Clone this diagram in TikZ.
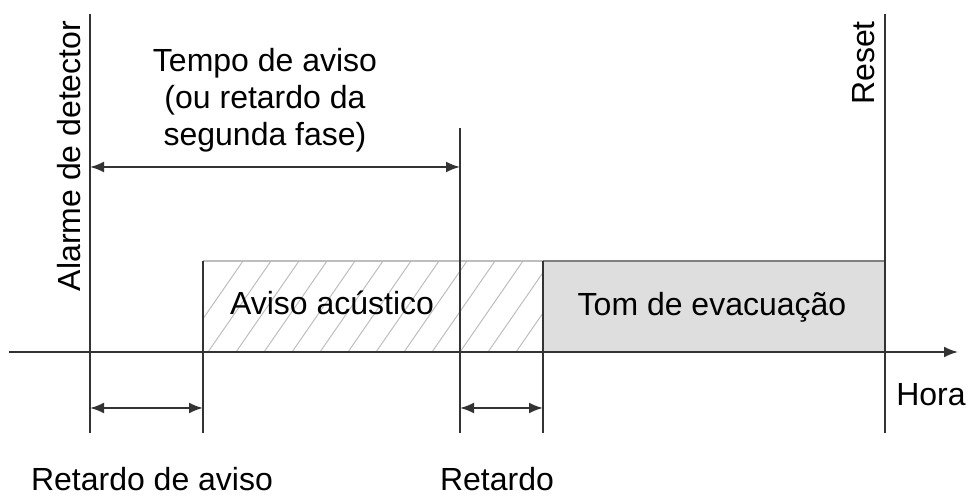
\documentclass[tikz,border=0pt]{standalone}
\usepackage{fontspec}
\setmainfont{Liberation Sans}
\usetikzlibrary{arrows.meta}
\pgfdeclarelayer{filllayer}
\pgfdeclarelayer{edgelayer}
\pgfsetlayers{filllayer,edgelayer,main}
\definecolor{linegray}{HTML}{333333}
\definecolor{hatchgray}{HTML}{BDBDBD}
\definecolor{boxgray}{HTML}{DEDEDE}
\tikzstyle{mark line}=[draw=linegray, line width=1pt]
\tikzstyle{span}=[draw=linegray, line width=1pt, {Latex[length=7pt,width=5.5pt]}-{Latex[length=7pt,width=5.5pt]}]
\tikzstyle{label}=[inner sep=0pt, font=\fontsize{16}{18.5}\selectfont]
\tikzstyle{side label}=[inner sep=0pt, rotate=90, font=\fontsize{16}{18.5}\selectfont]

\begin{document}
\begin{tikzpicture}[x=0.5pt, y=-0.5pt]
	\useasboundingbox (0,0) rectangle (971,496);
	% ends of the time marks
	\coordinate (alarmtop) at (90, 14);
	\coordinate (alarmbot) at (90, 433);
	\coordinate (avisotop) at (203, 261);
	\coordinate (avisobot) at (203, 433);
	\coordinate (tempotop) at (460, 128);
	\coordinate (tempobot) at (460, 433);
	\coordinate (evactop) at (543, 261);
	\coordinate (evacbot) at (543, 433);
	\coordinate (resettop) at (885, 14);
	\coordinate (resetbot) at (885, 433);
	\coordinate (axisstart) at (9, 352);
	\coordinate (axisend) at (958, 352);
	\begin{pgfonlayer}{filllayer}
		\fill [boxgray] (evactop) rectangle (885, 352);
		\begin{scope}
			\clip (avisotop) rectangle (543, 352);
			\foreach \i in {0,...,14}
				\draw [hatchgray, line width=0.5pt] (180+\i*28, 352) -- ++(63, -91);
		\end{scope}
	\end{pgfonlayer}
	\begin{pgfonlayer}{edgelayer}
		\draw [hatchgray, line width=0.8pt] (avisotop) -- (evactop);
		\draw [draw=gray, line width=0.8pt] (evactop) -- (885, 261);
		\draw [style=mark line] (alarmtop) -- (alarmbot);
		\draw [style=mark line] (avisotop) -- (avisobot);
		\draw [style=mark line] (tempotop) -- (tempobot);
		\draw [style=mark line] (evactop) -- (evacbot);
		\draw [style=mark line] (resettop) -- (resetbot);
		\draw [style=mark line, -{Latex[length=7pt,width=5.5pt]}] (axisstart) -- (axisend);
		\draw [style=span] (alarmtop |- 0, 167) -- (tempotop |- 0, 167);
		\draw [style=span] (alarmbot |- 0, 408) -- (avisobot |- 0, 408);
		\draw [style=span] (tempobot |- 0, 408) -- (evacbot |- 0, 408);
	\end{pgfonlayer}
	\node [style=side label] (alarme) at (69, 156) {Alarme de detector};
	\node [style=side label] (reset) at (864, 63) {Reset};
	\node [style=label, align=center] (tempo) at (265, 100) {Tempo de aviso\\(ou retardo da\\segunda fase)};
	\node [style=label] (acustico) at (332, 303) {Aviso acústico};
	\node [style=label] (evacuacao) at (712, 307) {Tom de evacuação};
	\node [style=label] (hora) at (931, 395) {Hora};
	\node [style=label] (retaviso) at (152, 479) {Retardo de aviso};
	\node [style=label] (retardo) at (497, 479) {Retardo};
\end{tikzpicture}
\end{document}
